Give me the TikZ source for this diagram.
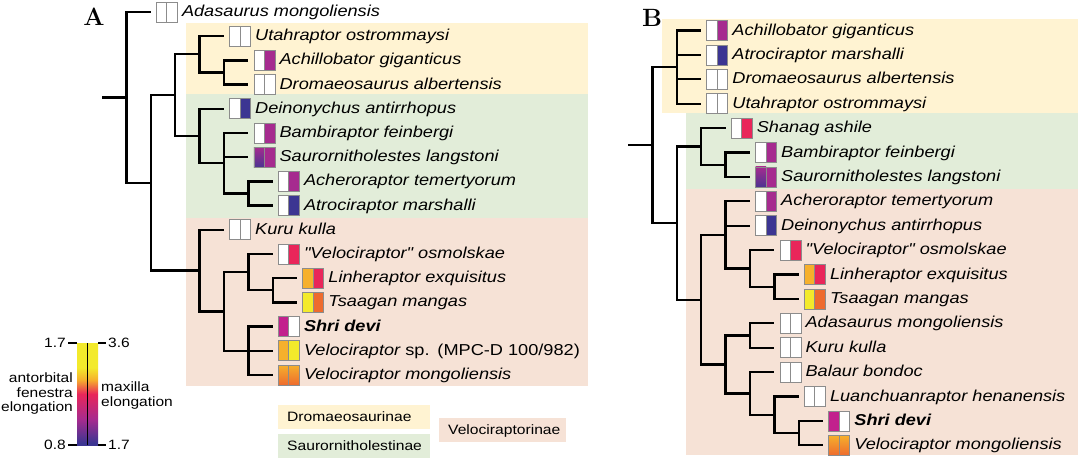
\documentclass[tikz,border=0pt]{standalone}
\usepackage{fontspec}
\newfontfamily\taxfont{Liberation Sans}[FakeStretch=1.15]
\usetikzlibrary{positioning}

\definecolor{cMag}{HTML}{A62B8F}
\definecolor{cBlu}{HTML}{3C3592}
\definecolor{cRed}{HTML}{E9265A}
\definecolor{cOrg}{HTML}{F6B02C}
\definecolor{cYel}{HTML}{F3EA2B}
\definecolor{cOrr}{HTML}{EE6B2E}
\definecolor{cShr}{HTML}{C2218D}
\definecolor{dromBg}{HTML}{FFF3D2}
\definecolor{saurBg}{HTML}{E2EDD9}
\definecolor{veloBg}{HTML}{F6E2D6}

\pgfdeclareverticalshading{elongbar}{100bp}{color(0bp)=(cBlu); color(26bp)=(cBlu); color(37.5bp)=(cMag); color(50bp)=(cRed); color(57bp)=(cOrg); color(63bp)=(cYel); color(100bp)=(cYel)}

\tikzset{
  branch/.style={line width=2.3pt},
  statebox/.style={draw=black!45, line width=0.8pt},
  sWht/.style={fill=white},
  sMag/.style={fill=cMag},
  sBlu/.style={fill=cBlu},
  sRed/.style={fill=cRed},
  sOrg/.style={fill=cOrg},
  sYel/.style={fill=cYel},
  sOrr/.style={fill=cOrr},
  sShr/.style={fill=cShr},
  sGradS/.style={top color=cMag, bottom color=cBlu!85!cMag},
  sGradV/.style={top color=cOrg, bottom color=cOrr},
  taxlabel/.style={anchor=west, inner sep=0pt, text height=9pt, text depth=0pt,
    font=\taxfont\fontsize{15.8}{18}\selectfont\itshape},
  legtext/.style={inner sep=0pt, font=\taxfont\fontsize{13.5}{14.5}\selectfont},
  cladebox/.style={anchor=north west, inner xsep=9pt, inner ysep=0pt, minimum height=24pt,
    text height=9.5pt, text depth=0pt, align=left,
    font=\taxfont\fontsize{13.6}{15}\selectfont},
  panel/.style={inner sep=0pt, font=\fontsize{25}{25}\selectfont\bfseries}
}

% name, leaf end, left state, right state, label
\newcommand\taxon[5]{%
  \coordinate (#1) at #2;
  \path[statebox,#3] (#1) ++(5.5,-10) rectangle ++(10.5,20);
  \path[statebox,#4] (#1) ++(16,-10) rectangle ++(10.5,20);
  \node[taxlabel] (#1-l) at ([xshift=31pt]#1) {#5};
}

\begin{document}
\begin{tikzpicture}[x=1pt,y=-1pt]
  \useasboundingbox (0,0) rectangle (1081,459);

  % clade backgrounds
  \fill[dromBg] (186,23) rectangle (588,94);
  \fill[saurBg] (186,94) rectangle (588,218);
  \fill[veloBg] (186,218) rectangle (588,386);
  \fill[dromBg] (662,19) rectangle (1078,113);
  \fill[saurBg] (686,113) rectangle (1078,189);
  \fill[veloBg] (686,189) rectangle (1078,455);

  \node[panel] (pA) at (94,17) {A};
  \node[panel] (pB) at (652,18) {B};

  % panel A
  \coordinate (aRoot0) at (102,97.5);
  \coordinate (aRoot) at (126.4,97.5);
  \coordinate (aN1) at (150.8,182.9);
  \coordinate (aDS) at (175.2,95.2);
  \coordinate (aDr) at (199.6,54.3);
  \coordinate (aAD) at (224,72.5);
  \coordinate (aSa) at (199.6,136);
  \coordinate (aBS) at (224,163.3);
  \coordinate (aAA) at (248.4,193.5);
  \coordinate (aVe) at (199.6,270.6);
  \coordinate (aV2) at (224,311.5);
  \coordinate (aV3) at (248.4,272.2);
  \coordinate (aLT) at (272.8,290.3);
  \coordinate (aV4) at (248.4,350.8);

  \taxon{aAdas}{(150.8,12)}{sWht}{sWht}{Adasaurus mongoliensis}
  \taxon{aUtah}{(224,36.2)}{sWht}{sWht}{Utahraptor ostrommaysi}
  \taxon{aAchi}{(248.4,60.4)}{sWht}{sMag}{Achillobator giganticus}
  \taxon{aDrom}{(248.4,84.6)}{sWht}{sWht}{Dromaeosaurus albertensis}
  \taxon{aDein}{(224,108.8)}{sWht}{sBlu}{Deinonychus antirrhopus}
  \taxon{aBamb}{(248.4,133)}{sWht}{sMag}{Bambiraptor feinbergi}
  \taxon{aSaur}{(248.4,157.2)}{sGradS}{sMag}{Saurornitholestes langstoni}
  \taxon{aAche}{(272.8,181.4)}{sWht}{sMag}{Acheroraptor temertyorum}
  \taxon{aAtro}{(272.8,205.6)}{sWht}{sBlu}{Atrociraptor marshalli}
  \taxon{aKuru}{(224,229.8)}{sWht}{sWht}{Kuru kulla}
  \taxon{aOsmo}{(272.8,254)}{sWht}{sRed}{"Velociraptor" osmolskae}
  \taxon{aLinh}{(297.2,278.2)}{sOrg}{sRed}{Linheraptor exquisitus}
  \taxon{aTsaa}{(297.2,302.4)}{sYel}{sOrr}{Tsaagan mangas}
  \taxon{aShri}{(272.8,326.6)}{sShr}{sWht}{\textbf{Shri devi}}
  \taxon{aVesp}{(272.8,350.8)}{sOrg}{sYel}{Velociraptor\upshape\ sp.\enspace(MPC-D 100/982)}
  \taxon{aVmon}{(272.8,375)}{sGradV}{sGradV}{Velociraptor mongoliensis}

  \draw[branch] (aRoot0) -- (aRoot);
  \foreach \p/\c in {aRoot/aAdas, aRoot/aN1, aN1/aDS, aN1/aVe, aDS/aDr, aDS/aSa,
      aDr/aUtah, aDr/aAD, aAD/aAchi, aAD/aDrom, aSa/aDein, aSa/aBS, aBS/aBamb,
      aBS/aSaur, aBS/aAA, aAA/aAche, aAA/aAtro, aVe/aKuru, aVe/aV2, aV2/aV3,
      aV2/aV4, aV3/aOsmo, aV3/aLT, aLT/aLinh, aLT/aTsaa, aV4/aShri, aV4/aVesp,
      aV4/aVmon}
    \draw[branch] (\p) |- (\c);

  % panel B
  \coordinate (bRoot0) at (628,145);
  \coordinate (bRoot) at (652.4,145);
  \coordinate (bDr) at (676.8,67.1);
  \coordinate (bSV2) at (676.8,223);
  \coordinate (bSa) at (701.2,146.4);
  \coordinate (bBS) at (725.6,164.7);
  \coordinate (bVe) at (701.2,299.7);
  \coordinate (bAD) at (725.6,234.9);
  \coordinate (bOL) at (750,268.4);
  \coordinate (bLT) at (774.4,286.7);
  \coordinate (bAB) at (725.6,364.5);
  \coordinate (bAK) at (750,335.5);
  \coordinate (bBa) at (750,393.5);
  \coordinate (bLu) at (774.4,414.8);
  \coordinate (bSV) at (798.8,433.1);

  \taxon{bAchi}{(701.2,30.5)}{sWht}{sMag}{Achillobator giganticus}
  \taxon{bAtro}{(701.2,54.9)}{sWht}{sBlu}{Atrociraptor marshalli}
  \taxon{bDrom}{(701.2,79.3)}{sWht}{sWht}{Dromaeosaurus albertensis}
  \taxon{bUtah}{(701.2,103.7)}{sWht}{sWht}{Utahraptor ostrommaysi}
  \taxon{bShan}{(725.6,128.1)}{sWht}{sRed}{Shanag ashile}
  \taxon{bBamb}{(750,152.5)}{sWht}{sMag}{Bambiraptor feinbergi}
  \taxon{bSaur}{(750,176.9)}{sGradS}{sMag}{Saurornitholestes langstoni}
  \taxon{bAche}{(750,201.3)}{sWht}{sMag}{Acheroraptor temertyorum}
  \taxon{bDein}{(750,225.7)}{sWht}{sBlu}{Deinonychus antirrhopus}
  \taxon{bOsmo}{(774.4,250.1)}{sWht}{sRed}{"Velociraptor" osmolskae}
  \taxon{bLinh}{(798.8,274.5)}{sOrg}{sRed}{Linheraptor exquisitus}
  \taxon{bTsaa}{(798.8,298.9)}{sYel}{sOrr}{Tsaagan mangas}
  \taxon{bAdas}{(774.4,323.3)}{sWht}{sWht}{Adasaurus mongoliensis}
  \taxon{bKuru}{(774.4,347.7)}{sWht}{sWht}{Kuru kulla}
  \taxon{bBala}{(774.4,372.1)}{sWht}{sWht}{Balaur bondoc}
  \taxon{bLuan}{(798.8,396.5)}{sWht}{sWht}{Luanchuanraptor henanensis}
  \taxon{bShri}{(823.2,420.9)}{sShr}{sWht}{\textbf{Shri devi}}
  \taxon{bVmon}{(823.2,445.3)}{sGradV}{sGradV}{Velociraptor mongoliensis}

  \draw[branch] (bRoot0) -- (bRoot);
  \foreach \p/\c in {bRoot/bDr, bRoot/bSV2, bDr/bAchi, bDr/bAtro, bDr/bDrom,
      bDr/bUtah, bSV2/bSa, bSV2/bVe, bSa/bShan, bSa/bBS, bBS/bBamb, bBS/bSaur,
      bVe/bAD, bVe/bAB, bAD/bAche, bAD/bDein, bAD/bOL, bOL/bOsmo, bOL/bLT,
      bLT/bLinh, bLT/bTsaa, bAB/bAK, bAB/bBa, bAK/bAdas, bAK/bKuru, bBa/bBala,
      bBa/bLu, bLu/bLuan, bLu/bSV, bSV/bShri, bSV/bVmon}
    \draw[branch] (\p) |- (\c);

  % colour bar
  \shade[shading=elongbar] (77,343) rectangle (98,445);
  \draw[line width=0.8pt] (87.5,343) -- (87.5,445);
  \draw[line width=1.4pt] (68,343) -- (77,343) (98,343) -- (106,343)
    (68,445) -- (77,445) (98,445) -- (106,445);
  \node[legtext, anchor=east] (barTL) at (66,343) {1.7};
  \node[legtext, anchor=east] (barBL) at (66,445) {0.8};
  \node[legtext, anchor=west] (barTR) at (108,343) {3.6};
  \node[legtext, anchor=west] (barBR) at (108,445) {1.7};
  \node[legtext, anchor=east, align=right] (afe) at (73,393.5) {antorbital\\fenestra\\elongation};
  \node[legtext, anchor=west, align=left] (mxe) at (101,395.5) {maxilla\\elongation};

  % clade key
  \node[cladebox, fill=dromBg, text width=134pt] (kDrom) at (278,405) {Dromaeosaurinae};
  \node[cladebox, fill=saurBg, text width=134pt] (kSaur) at (278,434) {Saurornitholestinae};
  \node[cladebox, fill=veloBg, text width=109pt] (kVelo) at (439,418) {Velociraptorinae};
\end{tikzpicture}
\end{document}
